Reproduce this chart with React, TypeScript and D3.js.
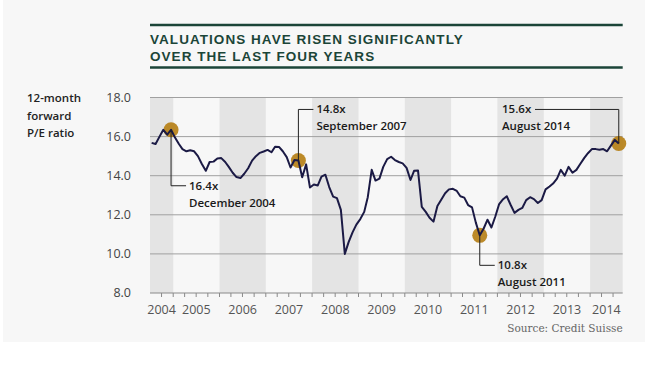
import React, { useEffect, useRef } from 'react';
import * as d3 from 'd3';

const W = 659;
const H = 367;

// monthly 12-month forward P/E, Jul 2004 .. Aug 2014
const pe2004 = [15.68, 15.62, 16.0, 16.35, 16.1, 16.35]; // Jul-Dec
const pe2005 = [15.95, 15.62, 15.36, 15.25, 15.3, 15.25, 15.0, 14.6, 14.25, 14.7, 14.72, 14.88];
const pe2006 = [14.9, 14.7, 14.45, 14.15, 13.93, 13.88, 14.1, 14.38, 14.77, 15.0, 15.17, 15.24];
const pe2007 = [15.32, 15.2, 15.48, 15.47, 15.25, 14.95, 14.42, 14.8, 14.78, 13.92, 14.58, 13.4];
const pe2008 = [13.55, 13.5, 13.95, 14.05, 13.42, 12.93, 12.85, 12.25, 10.0, 10.6, 11.1, 11.5];
const pe2009 = [11.78, 12.15, 12.9, 14.3, 13.75, 13.85, 14.45, 14.85, 14.97, 14.8, 14.7, 14.63];
const pe2010 = [14.4, 13.78, 14.25, 14.27, 12.4, 12.15, 11.85, 11.65, 12.45, 12.77, 13.1, 13.3];
const pe2011 = [13.33, 13.22, 12.95, 12.88, 12.5, 12.38, 11.6, 10.95, 11.3, 11.75, 11.35, 11.9];
const pe2012 = [12.55, 12.8, 12.95, 12.5, 12.1, 12.25, 12.35, 12.75, 12.9, 12.8, 12.6, 12.75];
const pe2013 = [13.3, 13.45, 13.6, 13.85, 14.3, 14.0, 14.45, 14.15, 14.3, 14.6, 14.9, 15.15];
const pe2014 = [15.36, 15.36, 15.33, 15.36, 15.25, 15.55, 15.83, 15.65]; // Jan-Aug

const years = [2004, 2005, 2006, 2007, 2008, 2009, 2010, 2011, 2012, 2013, 2014];
const yTicks = [8, 10, 12, 14, 16, 18];

const noteValues = ['16.4x', '14.8x', '10.8x', '15.6x'];
const noteDates = ['December 2004', 'September 2007', 'August 2011', 'August 2014'];
const noteMonths = [[2004, 11], [2007, 8], [2011, 7], [2014, 7]];

const titleLines = ['VALUATIONS HAVE RISEN SIGNIFICANTLY', 'OVER THE LAST FOUR YEARS'];
const axisTitle = ['12-month', 'forward', 'P/E ratio'];

export default function App() {
  const ref = useRef<SVGSVGElement>(null);

  useEffect(() => {
    document.body.style.margin = '0';
    const svg = d3.select(ref.current);
    svg.selectAll('*').remove();

    const byYear = [pe2004, pe2005, pe2006, pe2007, pe2008, pe2009, pe2010, pe2011, pe2012, pe2013, pe2014];
    const data: { date: Date; v: number }[] = [];
    byYear.forEach((arr, i) => {
      const first = i === 0 ? 6 : 0;
      arr.forEach((v, j) => data.push({ date: new Date(years[i], first + j, 15), v }));
    });

    const d0 = new Date(2004, 6, 2);
    const d1 = new Date(2014, 8, 15);
    const x = d3.scaleTime().domain([d0, d1]).range([150, 622.7]);
    const y = d3.scaleLinear().domain([8, 18]).range([293, 97.5]);

    const green = '#1b4538';
    const sans = "'Open Sans', sans-serif";

    svg.append('rect').attr('x', 0).attr('y', 0).attr('width', W).attr('height', H).attr('fill', '#fff');
    svg.append('rect').attr('x', 3).attr('y', 0).attr('width', 642).attr('height', 342).attr('fill', '#f7f7f7');

    // title
    [25, 67.5].forEach((yy) => {
      svg.append('line').attr('x1', 150).attr('x2', 622.7).attr('y1', yy).attr('y2', yy)
        .attr('stroke', green).attr('stroke-width', 2.5);
    });
    titleLines.forEach((t, i) => {
      svg.append('text').attr('x', 150).attr('y', 43.5 + i * 17).text(t)
        .attr('fill', green).attr('font-family', "'Liberation Sans', sans-serif")
        .attr('font-weight', 'bold').attr('font-size', 13.5).attr('letter-spacing', 1.05);
    });

    // alternating year bands
    years.filter((yr) => yr % 2 === 0).forEach((yr) => {
      const a = Math.max(x(new Date(yr, 0, 1)), x(d0));
      const b = Math.min(x(new Date(yr + 1, 0, 1)), x(d1));
      svg.append('rect').attr('x', a).attr('y', y(18)).attr('width', b - a).attr('height', y(8) - y(18))
        .attr('fill', '#e4e4e4');
    });

    // grid + y labels
    yTicks.forEach((t) => {
      svg.append('line').attr('x1', 150).attr('x2', 622.7).attr('y1', y(t)).attr('y2', y(t))
        .attr('stroke', t === 8 ? '#8a8a8a' : '#a0a0a0').attr('stroke-width', 1);
      svg.append('text').attr('x', 131).attr('y', y(t)).attr('dy', '0.35em').attr('text-anchor', 'end')
        .attr('font-family', sans).attr('font-size', 12.5).attr('fill', '#444').text(t.toFixed(1));
    });

    // quarterly ticks
    x.ticks(d3.timeMonth.every(3)).forEach((d) => {
      svg.append('line').attr('x1', x(d)).attr('x2', x(d)).attr('y1', y(8)).attr('y2', y(8) + 4)
        .attr('stroke', '#8a8a8a');
    });

    // year labels
    years.forEach((yr) => {
      const a = Math.max(x(new Date(yr, 0, 1)), x(d0));
      const b = Math.min(x(new Date(yr + 1, 0, 1)), x(d1));
      svg.append('text').attr('x', (a + b) / 2).attr('y', 313.5).attr('text-anchor', 'middle')
        .attr('font-family', sans).attr('font-size', 12.5).attr('fill', '#555').text(yr);
    });

    // axis title
    axisTitle.forEach((t, i) => {
      svg.append('text').attr('x', 27).attr('y', 102 + i * 17.5).text(t)
        .attr('font-family', sans).attr('font-weight', 600).attr('font-size', 11.5).attr('fill', '#222');
    });

    // circles under the line
    const notePts = noteMonths.map(([yr, mo]) => data.find((d) => d.date.getFullYear() === yr && d.date.getMonth() === mo)!);
    notePts.forEach((p) => {
      svg.append('circle').attr('cx', x(p.date)).attr('cy', y(p.v)).attr('r', 7.5)
        .attr('fill', '#b57d12').attr('opacity', 0.9);
    });

    const line = d3.line<{ date: Date; v: number }>().x((d) => x(d.date)).y((d) => y(d.v));
    svg.append('path').datum(data).attr('d', line).attr('fill', 'none')
      .attr('stroke', '#1b1a45').attr('stroke-width', 2).attr('stroke-linejoin', 'round');

    // annotations: leader drop and text side
    const drops = [56, -51, 30, -34];
    notePts.forEach((p, i) => {
      const cx = x(p.date);
      const cy = y(p.v);
      const ty = cy + drops[i];
      const g = svg.append('g');
      const textStyle = (s: any) => s.attr('font-family', sans).attr('font-weight', 600)
        .attr('font-size', 11.5).attr('fill', '#1a1a1a');
      if (i < 3) {
        g.append('path').attr('d', `M${cx},${cy}V${ty}H${cx + 15}`).attr('fill', 'none')
          .attr('stroke', '#222').attr('stroke-width', 1);
        g.append('text').attr('x', cx + 18).attr('y', ty).attr('dy', '0.35em').text(noteValues[i]).call(textStyle);
        g.append('text').attr('x', cx + 18).attr('y', ty + 17).attr('dy', '0.35em').text(noteDates[i]).call(textStyle);
      } else {
        g.append('path').attr('d', `M${cx},${cy}V${ty}H${535}`).attr('fill', 'none')
          .attr('stroke', '#222').attr('stroke-width', 1);
        g.append('text').attr('x', 502).attr('y', ty).attr('dy', '0.35em').text(noteValues[i]).call(textStyle);
        g.append('text').attr('x', 502).attr('y', ty + 17).attr('dy', '0.35em').text(noteDates[i]).call(textStyle);
      }
    });

    svg.append('text').attr('x', 622.7).attr('y', 332).attr('text-anchor', 'end')
      .attr('font-family', "'DejaVu Serif', serif").attr('font-size', 10.5).attr('fill', '#666')
      .text('Source: Credit Suisse');
  }, []);

  return <svg ref={ref} width={W} height={H} style={{ display: 'block' }} />;
}
